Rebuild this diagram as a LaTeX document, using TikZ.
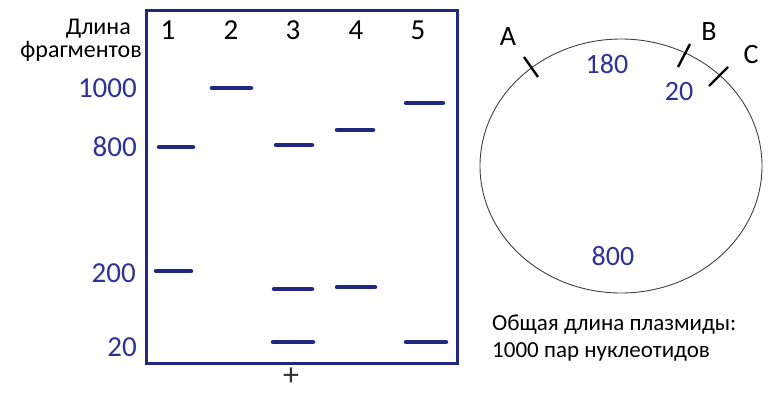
\documentclass[tikz,border=0pt]{standalone}
\usepackage{fontspec}
\setmainfont{Carlito}
\usepackage{xcolor}
\usepackage{tikz}
\usetikzlibrary{positioning}

\definecolor{gelblue}{RGB}{33,40,128}
\definecolor{numblue}{RGB}{46,50,148}

\tikzset{
  band/.style={line width=4.5pt, line cap=round, gelblue},
  sizelabel/.style={anchor=base east, inner sep=0pt, text=numblue, font=\fontsize{29}{34}\selectfont},
  lanelabel/.style={anchor=base, inner sep=0pt, font=\fontsize{29}{33}\selectfont},
  sitelabel/.style={anchor=base, inner sep=0pt, font=\fontsize{28}{32}\selectfont},
  piecelabel/.style={anchor=base, inner sep=0pt, text=numblue, font=\fontsize{28}{32}\selectfont},
  cutmark/.style={line width=2.4pt, black}
}

\begin{document}
\begin{tikzpicture}[x=1pt,y=-1pt]
  \useasboundingbox (0,0) rectangle (773,392);

  % gel
  \draw[gelblue, line width=3pt] (146,10) rectangle (457,363);
  \node[anchor=base east, inner sep=0pt, align=right, font=\fontsize{24}{23}\selectfont] (lenlabel) at (142,57) {Длина\hspace*{11pt}\\фрагментов};
  \foreach \n/\x in {1/168,2/231,3/293,4/356,5/418}
    \node[lanelabel] (lane\n) at (\x,39) {\n};

  \node[sizelabel] (s1000) at (137,97) {1000};
  \node[sizelabel] (s800) at (137,156) {800};
  \node[sizelabel] (s200) at (136,282) {200};
  \node[sizelabel] (s20) at (137,356) {20};

  \foreach \xa/\xb/\y in {159/193/147, 156/191/271,
                          212/251/88,
                          276/312/145, 274/312/289, 273/313/342,
                          337/373/130, 337/375/287,
                          406/443/103, 406/446/342}
    \draw[band] (\xa,\y) -- (\xb,\y);

  \node[inner sep=0pt, text height=9pt, text depth=0pt, font=\fontsize{32}{34}\selectfont, text=black!80] (anode) at (291,381) {+};

  % plasmid
  \draw[black!75, line width=0.9pt] (621,166) ellipse [x radius=141, y radius=127];
  \draw[cutmark] (524,57) -- (538,77);
  \draw[cutmark] (690,44) -- (678,67);
  \draw[cutmark] (728,67) -- (709,86);
  \node[sitelabel] (siteA) at (508,45) {A};
  \node[sitelabel] (siteB) at (709,40) {B};
  \node[sitelabel] (siteC) at (751,63) {C};

  \node[piecelabel] (p180) at (607,73) {180};
  \node[piecelabel] (p20) at (679,100) {20};
  \node[piecelabel] (p800) at (613,265) {800};

  \node[anchor=base west, inner sep=0pt, font=\fontsize{23}{27}\selectfont] (total1) at (492,330) {Общая длина плазмиды:};
  \node[anchor=base west, inner sep=0pt, font=\fontsize{23}{27}\selectfont] (total2) at (492,357) {1000 пар нуклеотидов};
\end{tikzpicture}
\end{document}
